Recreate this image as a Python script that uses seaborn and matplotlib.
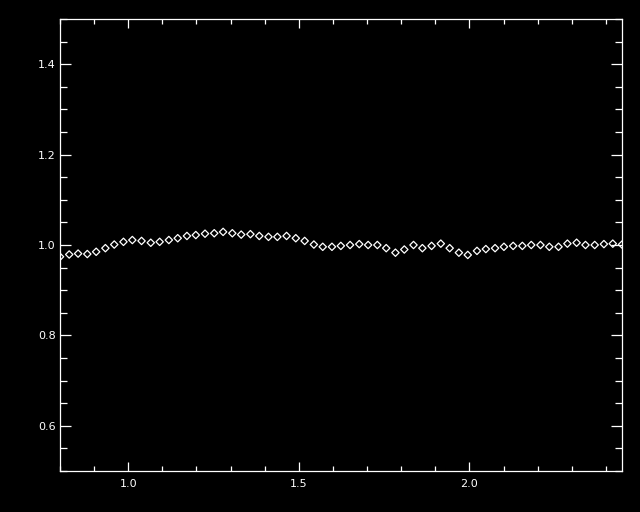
import numpy as np
import pandas as pd
import matplotlib
matplotlib.use("Agg")
import matplotlib.pyplot as plt
from matplotlib.ticker import MultipleLocator
import seaborn as sns

# values
x = [0.800, 0.827, 0.853, 0.880, 0.906, 0.933, 0.959, 0.986, 1.012, 1.039,
     1.066, 1.092, 1.119, 1.145, 1.172, 1.198, 1.225, 1.252, 1.278, 1.305,
     1.331, 1.358, 1.384, 1.411, 1.437, 1.464, 1.491, 1.517, 1.544, 1.570,
     1.597, 1.623, 1.650, 1.677, 1.703, 1.730, 1.756, 1.783, 1.809, 1.836,
     1.862, 1.889, 1.916, 1.942, 1.969, 1.995, 2.022, 2.048, 2.075, 2.101,
     2.128, 2.155, 2.181, 2.208, 2.234, 2.261, 2.287, 2.314, 2.340, 2.367,
     2.394, 2.420, 2.447]
y = [0.974, 0.979, 0.981, 0.980, 0.985, 0.993, 1.001, 1.007, 1.011, 1.009,
     1.005, 1.007, 1.011, 1.015, 1.020, 1.022, 1.025, 1.026, 1.029, 1.026,
     1.023, 1.024, 1.020, 1.018, 1.018, 1.020, 1.015, 1.009, 1.001, 0.996,
     0.996, 0.998, 1.000, 1.002, 1.000, 1.000, 0.993, 0.983, 0.990, 1.000,
     0.993, 0.998, 1.003, 0.993, 0.983, 0.978, 0.987, 0.991, 0.993, 0.996,
     0.998, 0.998, 1.000, 1.000, 0.996, 0.996, 1.003, 1.005, 1.000, 1.000,
     1.002, 1.003, 1.001]

df = pd.DataFrame({"x": x, "y": y})

sns.set_style("ticks", rc={
    "figure.facecolor": "black",
    "axes.facecolor": "black",
    "axes.edgecolor": "white",
    "xtick.color": "white",
    "ytick.color": "white",
    "text.color": "white",
    "axes.labelcolor": "white",
})
plt.rcParams["font.family"] = ["DejaVu Sans"]

fig = plt.figure(figsize=(6.4, 5.12), dpi=100)
ax = fig.add_axes([60 / 640, 1 - 471 / 512, 562 / 640, 452 / 512])

sns.scatterplot(data=df, x="x", y="y", ax=ax, marker="D", s=14,
                facecolor="none", edgecolor="white", linewidth=0.9)

ax.set_xlim(0.8, 2.447)
ax.set_ylim(0.5, 1.5)
ax.xaxis.set_minor_locator(MultipleLocator(0.1))
ax.yaxis.set_minor_locator(MultipleLocator(0.05))
ax.set_xticks([1.0, 1.5, 2.0])
ax.set_yticks([0.6, 0.8, 1.0, 1.2, 1.4])
ax.set_xticklabels(["1.0", "1.5", "2.0"])
ax.set_yticklabels(["0.6", "0.8", "1.0", "1.2", "1.4"])
ax.set_xlabel("")
ax.set_ylabel("")

for s in ax.spines.values():
    s.set_color("white")
    s.set_linewidth(0.9)

ax.tick_params(axis="both", which="both", direction="in", top=True, right=True,
               width=0.9, labelsize=8)
ax.tick_params(axis="x", which="major", length=6.5, pad=6)
ax.tick_params(axis="x", which="minor", length=3.6)
ax.tick_params(axis="y", which="major", length=8, pad=3)
ax.tick_params(axis="y", which="minor", length=4.7)

fig.savefig("out.png", dpi=100, facecolor="black")
